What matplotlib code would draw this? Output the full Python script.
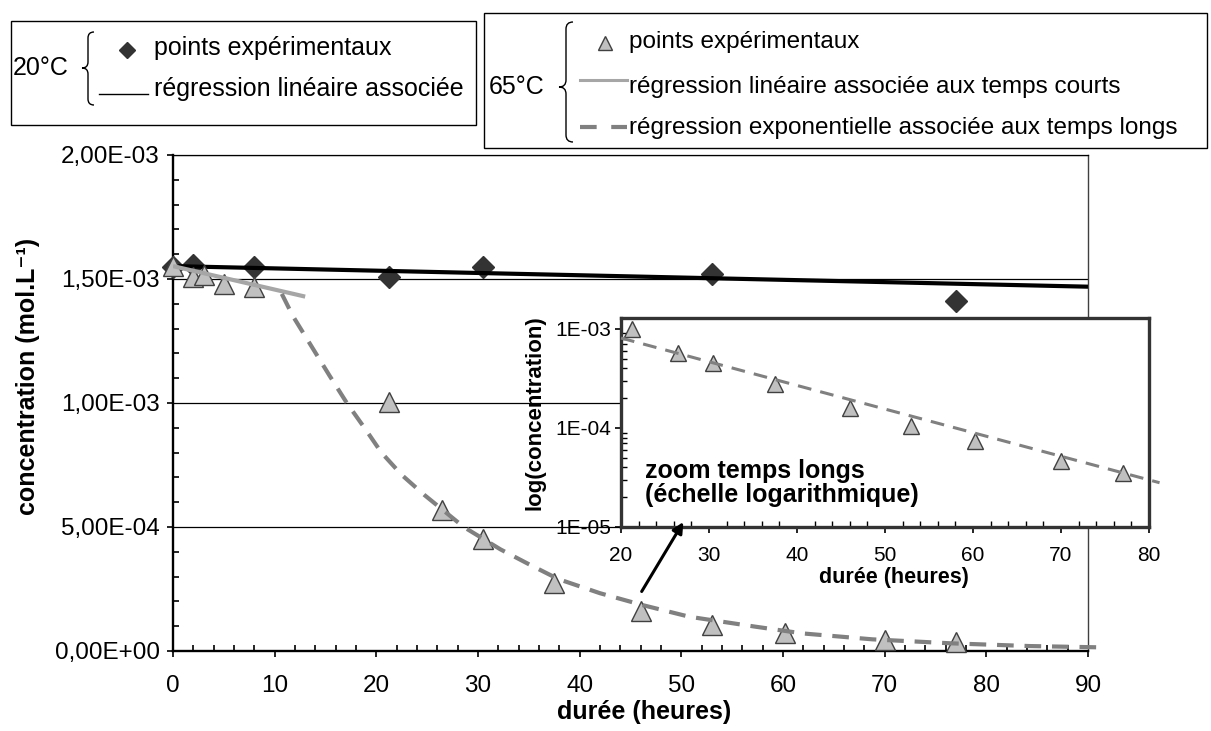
import matplotlib
matplotlib.use("Agg")
import matplotlib.pyplot as plt
from matplotlib.lines import Line2D
from matplotlib.patches import Rectangle, PathPatch
from matplotlib.path import Path
from matplotlib.ticker import (MultipleLocator, FixedLocator, FuncFormatter,
                               LogLocator, NullFormatter)

plt.rcParams["font.family"] = ["Liberation Sans", "DejaVu Sans"]

# ---- data -------------------------------------------------------------
# 20 °C : measured points and linear regression
t_20 = [0, 2, 8, 21.2, 30.5, 53, 77]
c_20 = [1.55e-3, 1.555e-3, 1.547e-3, 1.51e-3, 1.547e-3, 1.52e-3, 1.41e-3]
t_20_fit = [0, 90]
c_20_fit = [1.552e-3, 1.469e-3]

# 65 °C : measured points
t_65 = [0, 2, 3, 5, 8, 21.2, 26.5, 30.5, 37.5, 46, 53, 60.2, 70, 77]
c_65 = [1.552e-3, 1.51e-3, 1.515e-3, 1.48e-3, 1.468e-3, 1.004e-3, 5.7e-4,
        4.5e-4, 2.75e-4, 1.6e-4, 1.05e-4, 7.4e-5, 4.6e-5, 3.5e-5]
# 65 °C : linear regression at short times
t_65_lin = [0, 13]
c_65_lin = [1.552e-3, 1.429e-3]
# 65 °C : exponential regression at long times
t_65_exp = [10.7, 11.8, 13.6, 15.4, 17.1, 19.0, 20.5, 22.5, 24.7, 26.5, 28.6,
            32.2, 35.0, 37.9, 42.0, 46.2, 50.8, 57.3, 61.9, 68.8, 76.5, 84.2,
            90.8]
c_65_exp = [1.44e-3, 1.35e-3, 1.23e-3, 1.11e-3, 1.00e-3, 0.89e-3, 0.80e-3,
            0.71e-3, 0.63e-3, 0.57e-3, 0.50e-3, 0.41e-3, 0.35e-3, 0.29e-3,
            0.233e-3, 0.185e-3, 0.138e-3, 0.098e-3, 0.071e-3, 0.047e-3,
            0.031e-3, 0.020e-3, 0.015e-3]
# long-time zoom (log scale)
t_log_first = 21.2
t_65_log_fit = [20, 38, 81.2]
c_65_log_fit = [8.1e-4, 3.0e-4, 2.8e-5]

x_ticks = [0, 10, 20, 30, 40, 50, 60, 70, 80, 90]
y_ticks = [0, 5e-4, 1e-3, 1.5e-3, 2e-3]
x_ticks_log = [20, 30, 40, 50, 60, 70, 80]
y_ticks_log = [1e-5, 1e-4, 1e-3]

# ---- colours ----------------------------------------------------------
DIAMOND = "#333333"
TRI_FACE = "#c0c0c0"
TRI_EDGE = "#404040"
GREY_LINE = "#a6a6a6"
GREY_DASH = "#808080"

W, H = 1211, 731
fig = plt.figure(figsize=(W / 100, H / 100), dpi=100)


def fx(x):
    return x / W


def fy(y):
    return 1 - y / H


# ---- main axes --------------------------------------------------------
ax = fig.add_axes([fx(173), fy(651), fx(1088) - fx(173), fy(155) - fy(651)])
ax.set_xlim(0, 90)
ax.set_ylim(0, 2e-3)

for y in y_ticks[1:]:
    ax.axhline(y, color="black", lw=0.9, zorder=1)

ax.plot(t_20, c_20, ls="none", marker="D", ms=11, mfc=DIAMOND, mec=DIAMOND,
        zorder=3, clip_on=False)
ax.plot(t_20_fit, c_20_fit, color="black", lw=3, zorder=4,
        solid_capstyle="butt")
ax.plot(t_65, c_65, ls="none", marker="^", ms=15, mfc=TRI_FACE, mec=TRI_EDGE,
        mew=1, zorder=5, clip_on=False)
ax.plot(t_65_lin, c_65_lin, color=GREY_LINE, lw=3, zorder=6,
        solid_capstyle="butt")
ax.plot(t_65_exp, c_65_exp, color=GREY_DASH, lw=3, dashes=(4, 2.6), zorder=6,
        clip_on=False)

ax.xaxis.set_major_locator(FixedLocator(x_ticks))
ax.xaxis.set_minor_locator(MultipleLocator(2))
ax.yaxis.set_major_locator(FixedLocator(y_ticks))
ax.yaxis.set_minor_locator(MultipleLocator(1e-4))
ax.yaxis.set_major_formatter(
    FuncFormatter(lambda v, p: f"{v:.2E}".replace(".", ",")))
ax.tick_params(which="major", direction="out", length=4.5, width=1.2,
               labelsize=17.5)
ax.tick_params(which="minor", direction="in", length=4.5, width=1.2)
ax.tick_params(axis="y", which="major", pad=5)
ax.tick_params(axis="x", which="major", pad=13)
for side in ("left", "bottom"):
    ax.spines[side].set_linewidth(1.7)
    ax.spines[side].set_color("black")
ax.spines["top"].set_linewidth(0.9)
ax.spines["right"].set_linewidth(1.0)
ax.spines["right"].set_color("#404040")

fig.text(fx(644), fy(712), "durée (heures)", fontsize=18, fontweight="bold",
         ha="center", va="center")
fig.text(fx(28), fy(376), "concentration (mol.L\u207b\u00b9)", fontsize=18,
         fontweight="bold", rotation=90, ha="center", va="center")

# ---- inset: long times, log scale -------------------------------------
axi = fig.add_axes([fx(621), fy(527), fx(1149) - fx(621), fy(318) - fy(527)])
axi.set_yscale("log")
axi.set_xlim(20, 80)
axi.set_ylim(1e-5, 1.29e-3)
axi.set_facecolor("white")

sel = [i for i, t in enumerate(t_65) if t >= t_log_first]
axi.plot([t_65[i] for i in sel], [c_65[i] for i in sel], ls="none",
         marker="^", ms=12, mfc=TRI_FACE, mec=TRI_EDGE, mew=1, zorder=3,
         clip_on=False)
axi.plot(t_65_log_fit, c_65_log_fit, color=GREY_DASH, lw=2.2,
         dashes=(4.5, 3), zorder=4, clip_on=False)

axi.xaxis.set_major_locator(FixedLocator(x_ticks_log))
axi.xaxis.set_minor_locator(MultipleLocator(2))
axi.yaxis.set_major_locator(FixedLocator(y_ticks_log))
axi.yaxis.set_minor_locator(LogLocator(base=10, subs=range(2, 10)))
axi.yaxis.set_minor_formatter(NullFormatter())
axi.yaxis.set_major_formatter(FuncFormatter(lambda v, p: f"{v:.0E}"))
axi.tick_params(which="major", direction="out", length=4, width=1.2,
                labelsize=15)
axi.tick_params(which="minor", direction="in", length=4, width=1.0)
axi.tick_params(axis="y", which="major", pad=3)
axi.tick_params(axis="x", which="major", pad=10)
for s in axi.spines.values():
    s.set_linewidth(2.4)
    s.set_color("#333333")

fig.text(fx(894), fy(577), "durée (heures)", fontsize=15.5,
         fontweight="bold", ha="center", va="center")
fig.text(fx(535), fy(413), "log(concentration)", fontsize=16,
         fontweight="bold", rotation=90, ha="center", va="center")
fig.text(fx(645), fy(483), "zoom temps longs\n(échelle logarithmique)",
         fontsize=18, fontweight="bold", ha="left", va="center",
         linespacing=1.05)

# arrow pointing from the decaying curve to the zoom
axi.annotate("", xy=(50.2, 5.2e-4), xycoords=ax.transData,
             xytext=(46.1, 2.4e-4), textcoords=ax.transData,
             annotation_clip=False,
             arrowprops=dict(arrowstyle="-|>", lw=2.2, color="black",
                             mutation_scale=16, shrinkA=0, shrinkB=0))


# ---- legend boxes -----------------------------------------------------
def box(x0, y0, x1, y1):
    fig.add_artist(Rectangle((fx(x0), fy(y1)), fx(x1) - fx(x0),
                             fy(y0) - fy(y1), transform=fig.transFigure,
                             fill=False, lw=1.0, ec="black"))


def brace(xr, xm, xl, yt, ym, yb, r):
    pts = [(xr, yt), (xm, yt), (xm, yt + r), (xm, ym - r), (xm, ym),
           (xl, ym), (xm, ym), (xm, ym + r), (xm, yb - r), (xm, yb),
           (xr, yb)]
    codes = [Path.MOVETO, Path.CURVE3, Path.CURVE3, Path.LINETO,
             Path.CURVE3, Path.CURVE3, Path.CURVE3, Path.CURVE3,
             Path.LINETO, Path.CURVE3, Path.CURVE3]
    path = Path([(fx(a), fy(b)) for a, b in pts], codes)
    fig.add_artist(PathPatch(path, transform=fig.transFigure, fill=False,
                             lw=1.0, ec="black"))


def sample_line(x0, x1, y, **kw):
    fig.add_artist(Line2D([fx(x0), fx(x1)], [fy(y), fy(y)],
                          transform=fig.transFigure, **kw))


def sample_marker(x, y, **kw):
    fig.add_artist(Line2D([fx(x)], [fy(y)], transform=fig.transFigure,
                          ls="none", **kw))


# 20 °C
box(11, 21, 476, 125)
fig.text(fx(13), fy(68), "20°C", fontsize=18, ha="left", va="center")
brace(94, 88, 82, 32, 68, 105, 6)
sample_marker(127, 50, marker="D", ms=8.6, mfc=DIAMOND, mec=DIAMOND)
fig.text(fx(154), fy(48), "points expérimentaux", fontsize=18, ha="left",
         va="center")
sample_line(99, 148, 94, color="black", lw=1.0)
fig.text(fx(154), fy(89), "régression linéaire associée", fontsize=18,
         ha="left", va="center")

# 65 °C
box(484, 13, 1207, 148)
fig.text(fx(489), fy(87), "65°C", fontsize=18, ha="left", va="center")
brace(573, 566, 559, 22, 87, 142, 7)
sample_marker(605, 43, marker="^", ms=10, mfc=TRI_FACE, mec=TRI_EDGE, mew=1)
fig.text(fx(629), fy(42), "points expérimentaux", fontsize=17.5, ha="left",
         va="center")
sample_line(580, 627, 80, color=GREY_LINE, lw=2.2)
fig.text(fx(629), fy(87), "régression linéaire associée aux temps courts",
         fontsize=17.5, ha="left", va="center")
sample_line(580, 627, 127, color=GREY_DASH, lw=3, dashes=(4, 3.5))
fig.text(fx(629), fy(128),
         "régression exponentielle associée aux temps longs",
         fontsize=17.5, ha="left", va="center")

fig.savefig("out.png", dpi=100)
